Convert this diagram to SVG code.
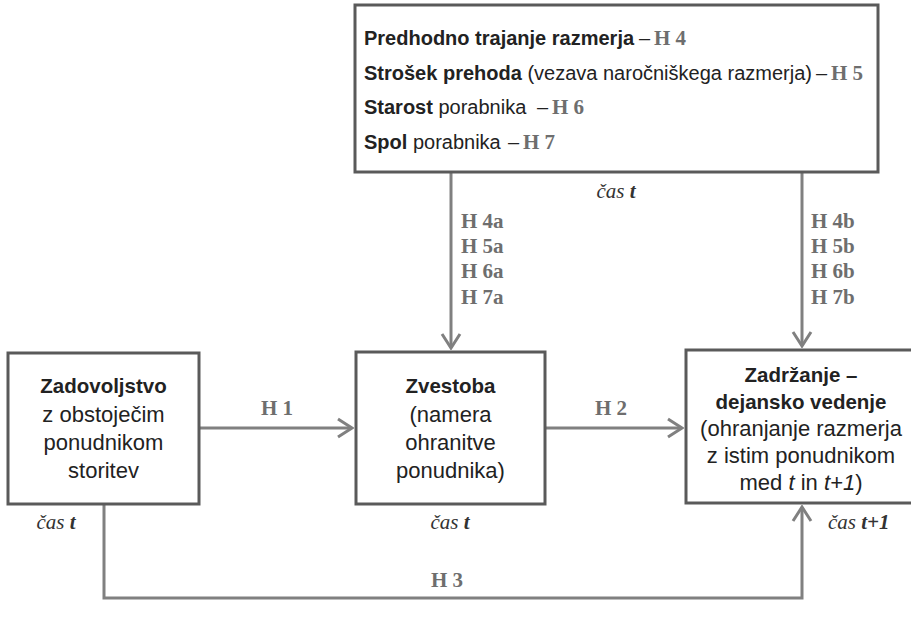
<svg xmlns="http://www.w3.org/2000/svg" width="911" height="627" viewBox="0 0 911 627">
<defs>
<style>
.box{fill:#fff;stroke:#5a5a5a;stroke-width:3}
.t{font-family:"Liberation Sans",Arial,sans-serif;fill:#222}
.tb{font-size:20px}
.nb{font-size:20.5px;font-weight:bold}
.nr{font-size:22px}
.b{font-weight:bold}
.h{font-family:"Liberation Serif","Times New Roman",serif;font-weight:bold;fill:#6e6e6e;font-size:21px}
.c{font-family:"Liberation Serif","Times New Roman",serif;font-style:italic;font-size:21px;fill:#333}
.c tspan{font-weight:bold}
.conn{fill:none;stroke:#808080;stroke-width:3}
</style>
<marker id="ah" viewBox="-17 -11 19 22" markerWidth="19" markerHeight="22" refX="0" refY="0" orient="auto" markerUnits="userSpaceOnUse">
<path d="M-14,-9 L0,0 L-14,9" fill="none" stroke="#808080" stroke-width="3"/>
</marker>
</defs>
<rect width="911" height="627" fill="#fff"/>

<g id="connectors">
<path class="conn" d="M199,428 H352" marker-end="url(#ah)"/>
<path class="conn" d="M545,428 H682" marker-end="url(#ah)"/>
<path class="conn" d="M451,172 V348" marker-end="url(#ah)"/>
<path class="conn" d="M802,172 V346" marker-end="url(#ah)"/>
<path class="conn" d="M104,504 V598 H802 V507" marker-end="url(#ah)"/>
<text class="h" x="277" y="415" text-anchor="middle">H 1</text>
<text class="h" x="611" y="415" text-anchor="middle">H 2</text>
<text class="h" x="447" y="587" text-anchor="middle">H 3</text>
<text class="h" x="461" y="228">H 4a</text>
<text class="h" x="461" y="253">H 5a</text>
<text class="h" x="461" y="278">H 6a</text>
<text class="h" x="461" y="304">H 7a</text>
<text class="h" x="811" y="228">H 4b</text>
<text class="h" x="811" y="253">H 5b</text>
<text class="h" x="811" y="278">H 6b</text>
<text class="h" x="811" y="304">H 7b</text>
<text class="c" x="616" y="198" text-anchor="middle">čas <tspan>t</tspan></text>
<text class="c" x="56" y="529" text-anchor="middle">čas <tspan>t</tspan></text>
<text class="c" x="450" y="529" text-anchor="middle">čas <tspan>t</tspan></text>
<text class="c" x="828" y="529">čas <tspan>t+1</tspan></text>
</g>

<g id="moderators">
<rect class="box" x="355" y="5" width="523" height="167"/>
<text class="t tb" x="364" y="45"><tspan class="b">Predhodno trajanje razmerja</tspan></text>
<text class="t tb" x="639" y="45">–</text>
<text class="h" x="654" y="45">H 4</text>
<text class="t tb" x="364" y="80"><tspan class="b">Strošek prehoda</tspan> (vezava naročniškega razmerja)</text>
<text class="t tb" x="816" y="80">–</text>
<text class="h" x="831" y="80">H 5</text>
<text class="t tb" x="364" y="114"><tspan class="b">Starost</tspan> porabnika</text>
<text class="t tb" x="537" y="114">–</text>
<text class="h" x="552" y="114">H 6</text>
<text class="t tb" x="364" y="149"><tspan class="b">Spol</tspan> porabnika</text>
<text class="t tb" x="508" y="149">–</text>
<text class="h" x="523" y="149">H 7</text>
</g>

<g id="zadovoljstvo">
<rect class="box" x="8" y="353" width="191" height="151"/>
<text class="t nb" x="103.5" y="393" text-anchor="middle">Zadovoljstvo</text>
<text class="t nr" x="103.5" y="422" text-anchor="middle">z obstoječim</text>
<text class="t nr" x="103.5" y="450" text-anchor="middle">ponudnikom</text>
<text class="t nr" x="103.5" y="478" text-anchor="middle">storitev</text>
</g>

<g id="zvestoba">
<rect class="box" x="356" y="352" width="189" height="152"/>
<text class="t nb" x="450.5" y="393" text-anchor="middle">Zvestoba</text>
<text class="t nr" x="450.5" y="422" text-anchor="middle">(namera</text>
<text class="t nr" x="450.5" y="450" text-anchor="middle">ohranitve</text>
<text class="t nr" x="450.5" y="478" text-anchor="middle">ponudnika)</text>
</g>

<g id="zadrzanje">
<rect class="box" x="686" y="350" width="235" height="153"/>
<text class="t nb" x="801" y="382" text-anchor="middle">Zadržanje –</text>
<text class="t nb" x="801" y="409" text-anchor="middle">dejansko vedenje</text>
<text class="t nr" x="801" y="436" text-anchor="middle">(ohranjanje razmerja</text>
<text class="t nr" x="801" y="463" text-anchor="middle">z istim ponudnikom</text>
<text class="t nr" x="801" y="490" text-anchor="middle">med <tspan font-style="italic">t</tspan> in <tspan font-style="italic">t+1</tspan>)</text>
</g>
</svg>
